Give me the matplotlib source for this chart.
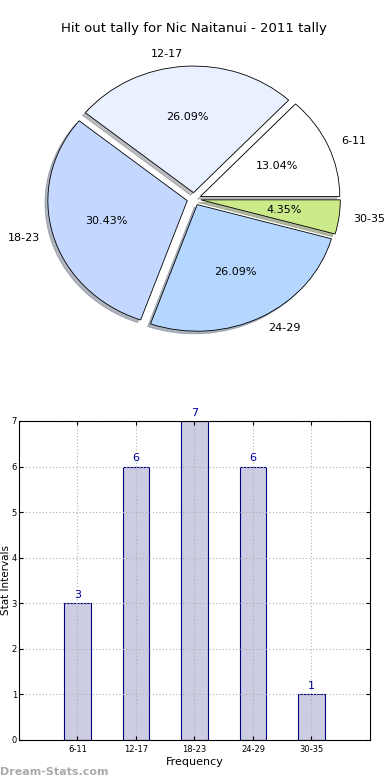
import numpy as np
import matplotlib
matplotlib.use("Agg")
import matplotlib.pyplot as plt

# data
intervals = ["6-11", "12-17", "18-23", "24-29", "30-35"]
counts = [3, 6, 7, 6, 1]
pie_colors = ["#ffffff", "#e9f0ff", "#c4d8ff", "#b4d6ff", "#cdea8a"]
title = "Hit out tally for Nic Naitanui - 2011 tally"

fig = plt.figure(figsize=(3.9, 7.8), dpi=100)

# pie
ax1 = fig.add_axes([0.0506, 0.542, 0.8936, 0.4058])
ax1.pie(counts, labels=intervals, colors=pie_colors, explode=[0.05] * len(counts),
        autopct="%1.2f%%", shadow=dict(ox=-0.015, oy=-0.015, shade=0.5), startangle=0,
        wedgeprops=dict(edgecolor="black", linewidth=0.6),
        textprops=dict(fontsize=8))
ax1.set_aspect("auto")
ax1.set_xlim(-1.25, 1.25)
ax1.set_ylim(-1.25, 1.25)
ax1.set_title(title, fontsize=9.5)

# bars
ax2 = fig.add_axes([0.0487, 0.0513, 0.9, 0.409])
x = np.arange(len(intervals))
bars = ax2.bar(x, counts, width=0.45, color="#ccccE2", edgecolor="#000080", linewidth=0.8)
for xi, c in zip(x, counts):
    ax2.text(xi, c + 0.07, str(c), ha="center", va="bottom", color="#000099", fontsize=8)
ax2.set_xlim(-1, 5)
ax2.set_ylim(0, 7)
ax2.set_xticks(x)
ax2.set_xticklabels(intervals, fontsize=6)
ax2.set_yticks(range(0, 8))
ax2.tick_params(axis="y", labelsize=6, pad=1.5)
ax2.tick_params(direction="in", top=True, right=True, length=3)
ax2.grid(True, linestyle=(0, (1, 2)), color="#b0b0b0", linewidth=0.8)
ax2.set_axisbelow(False)
for s in ax2.spines.values():
    s.set_zorder(4)
ax2.set_xlabel("Frequency", fontsize=8, labelpad=2)
ax2.set_ylabel("Stat Intervals", fontsize=7.5, va="center")
ax2.yaxis.set_label_coords(-0.038, 0.5)

fig.text(0.0, 0.004, "Dream-Stats.com", color="#aaaaaa", fontsize=8, fontweight="bold",
         ha="left", va="bottom")

fig.savefig("out.png", dpi=100)
